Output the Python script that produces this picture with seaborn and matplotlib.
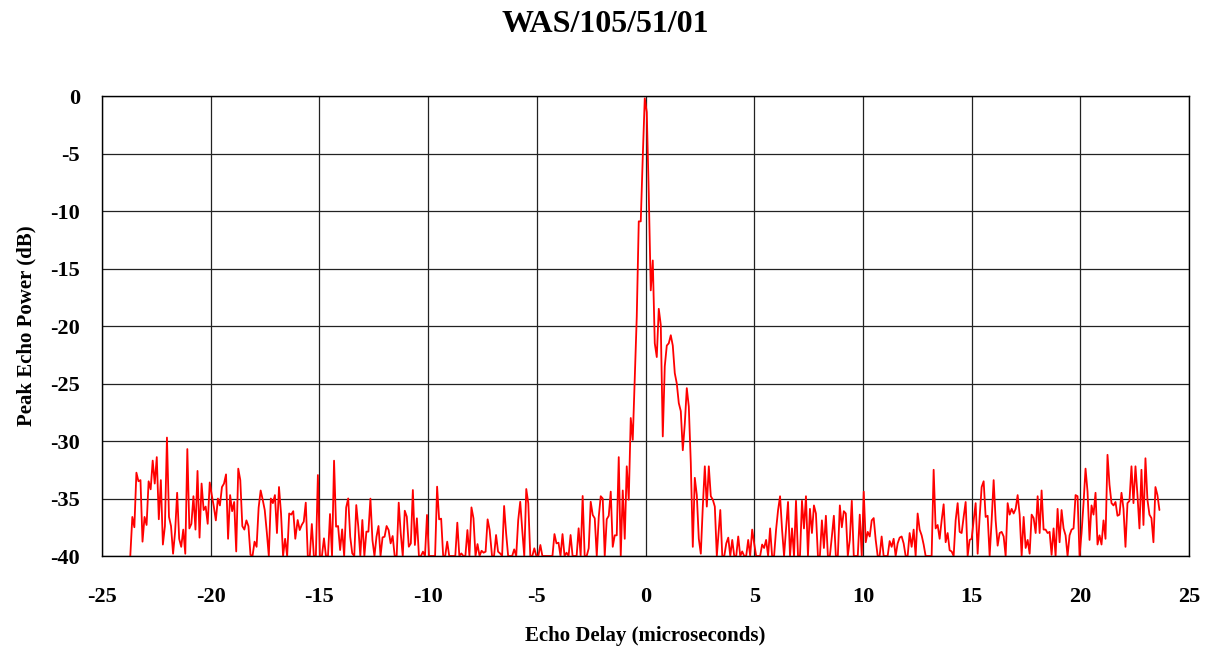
import numpy as np
import pandas as pd
import matplotlib
matplotlib.use('Agg')
import matplotlib.pyplot as plt
import seaborn as sns

# echo power readings (dB), one list per stretch of delay
far_left_db = [-40.0, -36.6, -37.5, -32.75, -33.5, -33.4, -38.75, -36.6, -37.3, -33.5,
               -34.2, -31.7, -33.7, -31.4, -36.8, -33.4, -39.0, -37.4, -29.7, -36.6,
               -37.4, -39.8, -37.9, -34.5, -38.5, -39.2, -37.7, -39.8, -30.7, -37.6,
               -37.2, -34.8, -37.7, -32.6, -38.4, -33.7, -36.0, -35.7, -37.2, -33.6,
               -34.7, -35.7, -36.9, -35.0, -35.6, -34.0, -33.7, -32.9, -38.5, -34.7,
               -36.1, -35.3, -39.6, -32.4, -33.4, -37.4, -37.7, -36.9, -37.4, -39.9,
               -40.0, -38.75, -39.2, -35.8, -34.3, -35.1, -36.0, -37.9, -40.0, -35.0,
               -35.4, -34.7, -38.0, -34.0, -36.3, -40.0, -38.5, -40.0, -36.3, -36.4,
               -36.1, -38.5]
far_left_span = (-23.70, -16.11)

mid_left_db = [-36.87, -37.74, -37.30, -37.01, -35.36, -40.0, -40.0, -37.22, -40.0, -40.0,
               -32.96, -40.0, -40.0, -38.46, -40.0, -40.0, -36.35, -40.0, -31.71, -37.45,
               -37.39, -39.48, -37.68, -40.0, -35.77, -34.99, -38.32, -39.77, -40.0, -35.57,
               -37.45, -40.0, -36.87, -40.0, -37.88, -37.88, -35.01, -38.61, -40.0, -38.32,
               -37.39, -40.0, -38.38, -38.32, -37.39, -37.74, -38.90, -38.26, -40.0, -40.0,
               -35.36, -38.03, -40.0, -36.06, -36.58, -39.19, -38.90, -34.26, -39.04, -36.72,
               -40.0, -40.0, -39.62, -40.0, -36.43, -40.0, -40.0, -40.0, -40.0, -33.97,
               -36.81, -36.75, -40.0, -40.0, -38.75, -40.0, -40.0, -40.0, -40.0, -37.10,
               -40.0, -39.77, -40.0, -40.0, -37.74, -40.0, -35.77, -36.72, -40.0, -38.96,
               -40.0, -39.54, -39.71, -39.62, -36.81, -37.74]
mid_left_span = (-16.00, -7.17)

near_left_db = [-40.0, -40.0, -38.17, -39.62, -39.77, -40.0, -35.65, -38.03, -40.0, -40.0,
                -40.0, -39.42, -40.0, -36.87, -35.28, -37.74, -40.0, -34.17, -35.42, -40.0,
                -40.0, -39.33, -40.0, -40.0, -39.04, -40.0, -40.0, -40.0, -40.0, -40.0,
                -40.0, -38.09, -38.90, -38.84, -40.0, -38.09, -40.0, -39.71, -40.0, -38.17,
                -40.0, -40.0, -40.0, -37.59, -40.0, -34.78, -40.0, -40.0, -39.33, -35.28,
                -36.43, -36.72, -40.0, -36.58]
near_left_span = (-7.06, -2.15)

main_echo_db = [-34.8, -35.0, -40.0, -36.8, -36.5, -34.4, -39.2, -38.2, -38.2, -31.4,
                -40.0, -34.3, -38.5, -32.2, -35.1, -28.0, -29.9, -24.4, -19.2, -10.9,
                -10.9, -5.3, -0.2, -1.4, -8.5, -16.9, -14.3, -21.5, -22.7, -18.5,
                -19.9, -29.6, -23.5, -21.7, -21.5, -20.8, -21.7, -24.1, -25.0, -26.7,
                -27.4, -30.8, -28.5, -25.4, -27.0, -31.9, -39.2, -33.2, -34.7, -38.5,
                -39.8, -35.7, -32.2, -35.7, -32.2, -34.8, -35.1, -35.7, -40.0]
main_echo_span = (-2.06, 3.28)

near_right_db = [-36.0, -40.0, -40.0, -38.9, -38.4, -40.0, -38.6, -40.0, -40.0, -38.3,
                 -40.0, -39.6, -40.0, -40.0, -38.6, -40.0, -37.7, -38.9, -40.0, -40.0,
                 -40.0, -39.0, -39.3, -38.6, -40.0, -37.6, -40.0, -40.0, -37.7, -36.0,
                 -34.8, -37.7, -40.0, -37.7, -35.3, -40.0, -37.6, -40.0, -35.2, -40.0,
                 -40.0, -35.2, -37.6, -34.8, -40.0, -35.9, -38.0, -35.6, -36.3, -40.0,
                 -40.0, -36.9, -39.3, -36.5, -40.0, -40.0, -38.3, -36.5, -40.0, -40.0,
                 -35.6, -37.5, -36.1, -36.3, -40.0, -38.6, -35.2, -40.0, -40.0, -40.0,
                 -36.4, -40.0, -34.4, -38.8, -37.9, -38.3, -36.9, -36.7, -38.6, -40.0]
near_right_span = (3.44, 10.68)

mid_right_db = [-40.0, -38.3, -40.0, -40.0, -40.0, -38.7, -39.2, -38.5, -40.0, -38.9,
                -38.4, -38.3, -38.9, -40.0, -40.0, -38.0, -39.2, -37.7, -40.0, -36.3,
                -37.7, -38.2, -39.0, -40.0, -40.0, -40.0, -40.0, -32.5, -37.6, -37.3,
                -38.5, -36.9, -35.5, -38.8, -38.0, -39.5, -39.6, -40.0, -36.9, -35.4,
                -37.9, -38.0, -36.6, -35.3, -40.0, -38.6, -38.5, -36.9, -35.4, -39.8,
                -36.6, -34.0, -33.5, -36.6, -36.5, -40.0, -36.9, -33.4, -36.9, -39.1,
                -38.0, -37.9, -38.3, -40.0, -35.4, -36.4, -35.9, -36.3, -35.9, -34.7,
                -36.4, -40.0, -36.6, -39.3, -38.6, -39.8, -36.4, -36.7, -38.0, -34.8,
                -38.0]
mid_right_span = (10.77, 18.13)

far_right_db = [-34.3, -37.7, -37.7, -38.0, -37.9, -39.9, -37.6, -40.0, -35.9, -38.8,
                -36.0, -37.6, -38.2, -40.0, -38.2, -37.7, -37.6, -34.7, -34.8, -40.0,
                -38.0, -35.4, -32.4, -34.4, -38.6, -35.6, -36.4, -34.5, -39.0, -38.2,
                -39.0, -36.9, -38.5, -31.2, -33.8, -35.4, -35.6, -35.3, -36.5, -36.4,
                -34.5, -35.9, -39.2, -35.4, -35.2, -32.2, -35.4, -32.2, -34.7, -37.6,
                -32.5, -37.3, -31.5, -35.1, -36.4, -36.7, -38.8, -34.0, -34.7, -36.0]
far_right_span = (18.22, 23.64)

segments = [(far_left_span, far_left_db), (mid_left_span, mid_left_db),
            (near_left_span, near_left_db), (main_echo_span, main_echo_db),
            (near_right_span, near_right_db), (mid_right_span, mid_right_db),
            (far_right_span, far_right_db)]

delay = np.concatenate([np.linspace(s[0], s[1], len(v)) for s, v in segments])
power = np.concatenate([v for _, v in segments])
df = pd.DataFrame({'delay': delay, 'power': power})

sns.set_style('white')
plt.rcParams['font.family'] = ['Liberation Serif', 'DejaVu Serif']
plt.rcParams['axes.unicode_minus'] = False
plt.rcParams['text.color'] = 'black'
plt.rcParams['axes.labelcolor'] = 'black'
plt.rcParams['xtick.color'] = 'black'
plt.rcParams['ytick.color'] = 'black'

fig = plt.figure(figsize=(12.06, 6.47), dpi=100)
ax = fig.add_axes([0.0846, 0.1406, 0.9013, 0.711])

sns.lineplot(data=df, x='delay', y='power', ax=ax, color='#ff0000',
             linewidth=1.3, sort=False, estimator=None)

ax.set_xlim(-25, 25)
ax.set_ylim(-40, 0)
ax.set_xticks(np.arange(-25, 26, 5))
ax.set_yticks(np.arange(-40, 1, 5))
ax.grid(True, color='#222222', linewidth=0.9)
ax.set_axisbelow(True)
for sp in ax.spines.values():
    sp.set_color('black')
    sp.set_linewidth(1.0)

ax.tick_params(axis='both', direction='out', length=5, width=1, color='black',
               labelsize=16)
ax.tick_params(axis='x', pad=17)
ax.tick_params(axis='y', pad=11)
for lbl in ax.get_xticklabels() + ax.get_yticklabels():
    lbl.set_fontweight('bold')

ax.set_xlabel('Echo Delay (microseconds)', fontsize=15, fontweight='bold', labelpad=14)
ax.set_ylabel('Peak Echo Power (dB)', fontsize=15, fontweight='bold', labelpad=10)
fig.text(0.502, 0.962, 'WAS/105/51/01', ha='center', va='center',
         fontsize=23, fontweight='bold')

fig.savefig('out.png', dpi=100)
